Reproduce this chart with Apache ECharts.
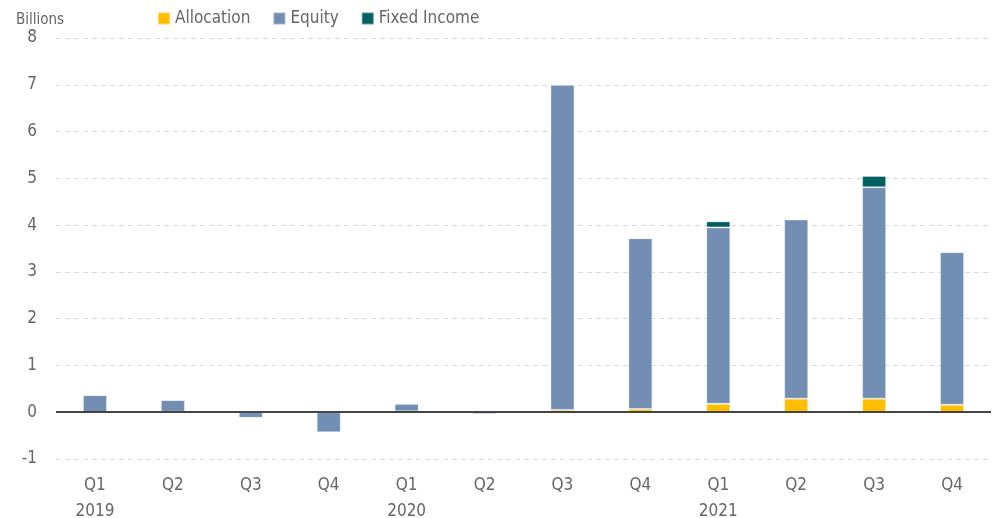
<!DOCTYPE html>
<html><head><meta charset="utf-8">
<script src="https://cdn.jsdelivr.net/npm/echarts@6/dist/echarts.min.js"></script>
<style>html,body{margin:0;padding:0;background:#fff}#c{width:1000px;height:518px}</style>
</head><body><div id="c"></div>
<script>
const quarters = ['Q1','Q2','Q3','Q4','Q1','Q2','Q3','Q4','Q1','Q2','Q3','Q4'];
const years = ['2019','','','','2020','','','','2021','','',''];
const allocation = [0.005, 0.01, 0.0, 0.0, 0.02, 0.0, 0.05, 0.07, 0.18, 0.29, 0.29, 0.16];
const equity = [0.36, 0.25, -0.12, -0.43, 0.16, -0.04, 6.95, 3.65, 3.77, 3.83, 4.52, 3.26];
const fixedIncome = [0.0, 0.0, 0.0, 0.0, 0.0, -0.01, 0.0, 0.0, 0.13, 0.0, 0.24, 0.02];
const yTicks = {min: -1, max: 8, interval: 1};

const font = '"Liberation Sans Narrow","DejaVu Sans Condensed","Roboto",sans-serif';
const cats = quarters.map((q, i) => years[i] ? q + '\n' + years[i] : q);
const chart = echarts.init(document.getElementById('c'), null, {renderer: 'canvas'});
const barStyle = c => ({color: c, borderColor: 'rgba(255,255,255,0.35)', borderWidth: 1});
chart.setOption({
  animation: false,
  textStyle: {fontFamily: font},
  title: {text: 'Billions', left: 11, top: 8, textStyle: {fontFamily: font, fontSize: 15, fontWeight: 'normal', color: '#666'}},
  legend: {
    left: 152, top: 5, itemWidth: 12, itemHeight: 12, itemGap: 22, icon: 'rect',
    textStyle: {fontFamily: font, fontSize: 17, color: '#666'},
    data: ['Allocation', 'Equity', 'Fixed Income']
  },
  grid: {left: 56, right: 9, top: 38, bottom: 59, containLabel: false, outerBoundsMode: 'none'},
  xAxis: {
    type: 'category', data: cats, position: 'bottom',
    axisLine: {show: false, onZero: false}, axisTick: {show: false},
    axisLabel: {fontFamily: font, fontSize: 17, color: '#666', lineHeight: 26, margin: 14, interval: 0}
  },
  yAxis: {
    type: 'value', min: yTicks.min, max: yTicks.max, interval: yTicks.interval,
    axisLine: {show: false}, axisTick: {show: false},
    axisLabel: {fontFamily: font, fontSize: 17, color: '#666', margin: 19},
    splitLine: {lineStyle: {color: '#d9d9d9', type: [5, 4], width: 1}}
  },
  series: [
    {name: 'Allocation', type: 'bar', stack: 'a', barWidth: 24, data: allocation, itemStyle: barStyle('#ffbf00'),
     markLine: {silent: true, symbol: 'none', label: {show: false}, lineStyle: {color: '#444', type: 'solid', width: 2}, data: [{yAxis: 0}]}},
    {name: 'Equity', type: 'bar', stack: 'a', barWidth: 24, data: equity, itemStyle: barStyle('#728eb2')},
    {name: 'Fixed Income', type: 'bar', stack: 'a', barWidth: 24, data: fixedIncome, itemStyle: barStyle('#005f61')}
  ]
});
</script></body></html>
